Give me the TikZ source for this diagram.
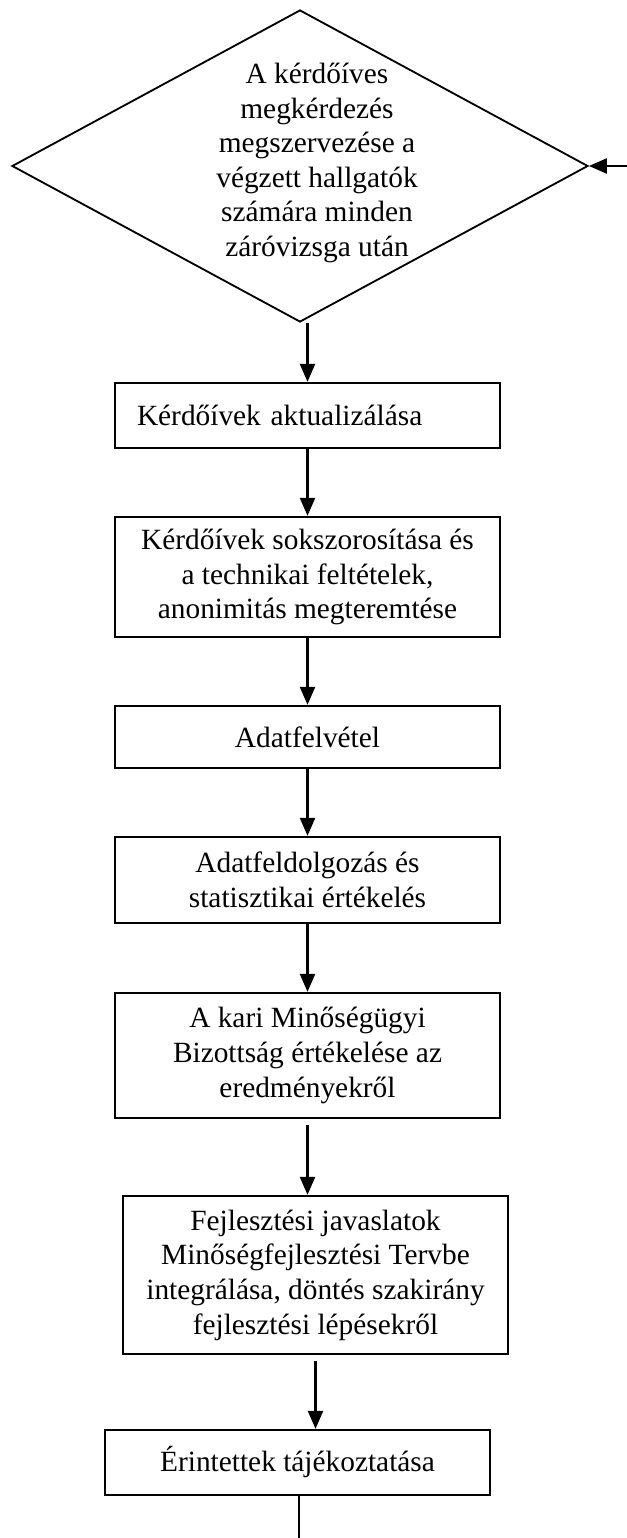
\documentclass[tikz,border=0pt]{standalone}
\usepackage{fontspec}
\setmainfont{Liberation Serif}
\usetikzlibrary{shapes.geometric,arrows.meta}
\newcommand{\egys}{0.436pt}
\tikzset{
	doboz/.style={draw, line width=1pt, rectangle, inner sep=0pt, minimum width=385*\egys, align=center},
	nyil/.style={-{Triangle[length=18*\egys,width=15*\egys]}, line width=1pt},
}
\begin{document}
\begin{tikzpicture}[x=\egys,y=-\egys,font=\fontsize{12.8}{15.1}\selectfont]
				\useasboundingbox (0,0) rectangle (627,1538);
				\node[diamond, draw, line width=0.8pt, inner sep=0pt, minimum width=576*\egys, minimum height=312*\egys] (d) at (300,166) {};
				\node[align=center] (dszoveg) at (317,163) {A kérdőíves\\megkérdezés\\megszervezése a\\végzett hallgatók\\számára minden\\záróvizsga után};
				\node[doboz, minimum height=65*\egys, text width=341*\egys, align=left] (b1) at (307.5,415.5) {Kérdőívek aktualizálása};
				\node[doboz, minimum height=120*\egys] (b2) at (307.5,577) {Kérdőívek sokszorosítása és\\a technikai feltételek,\\anonimitás megteremtése};
				\node[doboz, minimum height=62*\egys] (b3) at (307.5,737) {Adatfelvétel};
				\node[doboz, minimum height=86*\egys] (b4) at (307.5,880) {Adatfeldolgozás és\\statisztikai értékelés};
				\node[doboz, minimum height=125*\egys] (b5) at (307.5,1055.5) {A kari Minőségügyi\\Bizottság értékelése az\\eredményekről};
				\node[doboz, minimum height=158*\egys] (b6) at (315.5,1275) {Fejlesztési javaslatok\\Minőségfejlesztési Tervbe\\integrálása, döntés szakirány\\fejlesztési lépésekről};
				\node[doboz, minimum height=65*\egys] (b7) at (297.5,1462.5) {Érintettek tájékoztatása};
				\coordinate (be) at (627,166);
				\coordinate (vege) at (299,1538);
				\draw[nyil] (be) -- (d.east);
				\draw[nyil] (b1.north |- d.south) -- (b1.north);
				\draw[nyil] (b1.south) -- (b2.north);
				\draw[nyil] (b2.south) -- (b3.north);
				\draw[nyil] (b3.south) -- (b4.north);
				\draw[nyil] (b4.south) -- (b5.north);
				\draw[nyil] ([yshift=-6*\egys]b5.south) -- (b5.south |- b6.north);
				\draw[nyil] ([yshift=-6*\egys]b6.south) -- (b6.south |- b7.north);
				\draw[line width=1pt] (b7.south -| vege) -- (vege);
			\end{tikzpicture}
\end{document}
